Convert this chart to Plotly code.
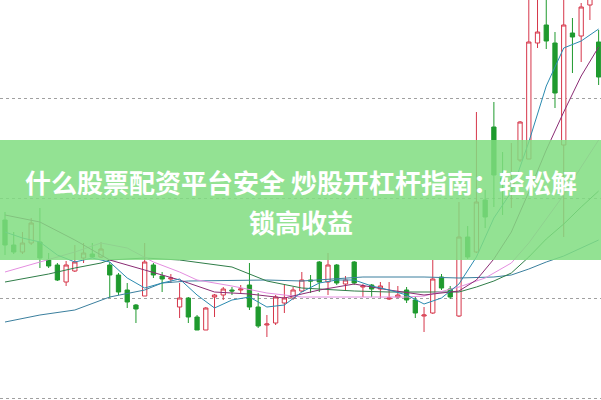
import plotly.graph_objects as go

# ---- candle data (index, open, close, high, low) ----
idx = list(range(69))
opens = [9.80, 9.55, 9.48, 9.57, 9.58, 9.40, 9.35, 9.18, 9.29, 9.42,
         9.46, 9.43, 9.35, 9.25, 9.10, 8.95, 9.04, 9.35, 9.24, 9.21,
         8.93, 9.02, 8.83, 8.70, 9.03, 9.05, 9.10, 9.10, 9.15, 8.93,
         8.75, 8.77, 8.97, 9.02, 9.09, 9.20, 9.38, 9.18, 9.35, 9.16,
         9.38, 9.13, 9.15, 9.11, 9.01, 9.03, 9.10, 9.00, 8.84, 8.87,
         9.23, 9.11, 8.84, 9.63, 9.48, 10.00, 10.73, 10.22, 10.15, 10.40,
         10.41, 11.57, 11.75, 11.57, 10.55, 11.67, 11.64, 11.95, 11.58]
closes = [9.55, 9.48, 9.57, 9.77, 9.42, 9.34, 9.20, 9.35, 9.38, 9.47,
          9.43, 9.51, 9.25, 9.08, 8.98, 8.91, 9.38, 9.25, 9.21, 9.22,
          9.02, 8.83, 8.70, 8.92, 9.05, 9.11, 9.09, 9.11, 8.93, 8.74,
          8.76, 9.03, 9.02, 9.10, 9.20, 9.19, 9.18, 9.35, 9.17, 9.20,
          9.17, 9.14, 9.11, 9.14, 9.02, 9.05, 9.00, 8.87, 8.85, 9.21,
          9.12, 9.03, 9.63, 9.43, 9.98, 9.83, 10.25, 10.18, 10.17, 10.78,
          11.58, 11.68, 11.59, 11.07, 11.75, 11.63, 11.93, 12.02, 11.23]
highs = [9.88, 9.68, 9.68, 9.82, 9.92, 9.47, 9.37, 9.39, 9.55, 9.57,
         9.57, 9.58, 9.38, 9.27, 9.17, 8.96, 9.57, 9.37, 9.28, 9.26,
         9.17, 9.03, 8.85, 8.93, 9.06, 9.13, 9.13, 9.15, 9.37, 9.07,
         8.85, 9.05, 9.15, 9.13, 9.28, 9.25, 9.39, 9.47, 9.36, 9.24,
         9.39, 9.16, 9.16, 9.18, 9.18, 9.14, 9.13, 9.03, 8.93, 9.40,
         9.26, 9.14, 9.98, 9.74, 10.88, 10.10, 10.98, 10.48, 10.57, 10.79,
         12.05, 12.05, 12.05, 11.68, 12.05, 11.82, 11.97, 12.10, 11.70]
lows = [9.45, 9.46, 9.46, 9.55, 9.32, 9.32, 9.19, 9.14, 9.28, 9.37,
        9.42, 9.42, 9.02, 9.05, 8.92, 8.77, 9.04, 9.22, 9.08, 9.17,
        8.82, 8.77, 8.70, 8.70, 8.83, 9.00, 9.05, 9.07, 8.90, 8.72,
        8.63, 8.75, 8.87, 9.00, 9.08, 9.07, 9.08, 9.05, 9.15, 9.10,
        9.15, 9.03, 9.03, 9.02, 9.00, 9.02, 8.97, 8.82, 8.68, 8.86,
        9.10, 9.01, 8.83, 9.41, 9.47, 9.72, 9.93, 9.85, 9.92, 10.38,
        10.41, 11.52, 11.51, 10.92, 9.63, 11.27, 11.38, 11.80, 11.15]

# ---- moving-average lines ----
ma5_x = list(range(0, 69, 2))
ma5_y = [9.68, 9.62, 9.58, 9.45, 9.38, 9.42, 9.38, 9.22, 9.12, 9.17,
         9.21, 9.05, 8.92, 9.00, 9.03, 8.93, 8.95, 9.08, 9.17, 9.20,
         9.20, 9.14, 9.10, 9.05, 8.96, 9.02, 9.16, 9.43, 9.82, 10.08,
         10.58, 11.14, 11.52, 11.59, 11.71]
ma10_x = [0, 4, 8, 12, 16, 20, 24, 28, 32, 36, 40, 44, 48, 52, 54, 56, 58, 60, 62, 64, 66, 68]
ma10_y = [9.85, 9.78, 9.60, 9.40, 9.30, 9.20, 9.08, 9.06, 9.02, 9.10, 9.16,
          9.10, 9.05, 9.09, 9.20, 9.41, 9.68, 10.08, 10.50, 10.88, 11.24, 11.53]
ma20_x = [0, 2, 4, 8, 11, 14, 17, 20, 22, 26, 30, 34, 40, 46, 48, 52, 55, 58,
          60, 62, 64, 66, 68]
ma20_y = [9.28, 9.33, 9.38, 9.48, 9.57, 9.52, 9.38, 9.28, 9.20, 9.14, 9.07,
          9.03, 9.03, 9.03, 9.04, 9.13, 9.22, 9.37, 9.57, 9.81, 10.05, 10.33, 10.60]
ma30_x = [0, 3, 5, 8, 11, 12, 16, 20, 26, 30, 34, 40, 44, 48, 50, 52, 54, 56,
          58, 60, 62, 64, 66, 68]
ma30_y = [9.18, 9.23, 9.26, 9.32, 9.37, 9.40, 9.42, 9.40, 9.33, 9.19, 9.12,
          9.09, 9.08, 9.08, 9.08, 9.08, 9.13, 9.19, 9.27, 9.43, 9.61, 9.76, 9.93, 10.09]
ma60_x = [0, 4, 8, 11, 12, 16, 18, 21, 30, 34, 41, 48, 52, 56, 58, 60, 62, 64, 66, 68]
ma60_y = [8.78, 8.85, 8.90, 9.00, 9.03, 9.10, 9.17, 9.19, 9.20, 9.19, 9.23,
          9.23, 9.22, 9.23, 9.25, 9.31, 9.38, 9.44, 9.52, 9.60]

title_line1 = "什么股票配资平台安全 炒股开杠杆指南：轻松解"
title_line2 = "锁高收益"

fig = go.Figure()

lines = [
    (ma60_x, ma60_y, "#3b7f9e"),
    (ma30_x, ma30_y, "#2f7d48"),
    (ma20_x, ma20_y, "#e48ee0"),
    (ma10_x, ma10_y, "#8b2c74"),
    (ma5_x, ma5_y, "#2b8bb0"),
]
for xs, ys, col in lines:
    fig.add_trace(go.Scatter(x=xs, y=ys, mode="lines",
                             line=dict(color=col, width=1), hoverinfo="skip",
                             showlegend=False))

fig.add_trace(go.Candlestick(
    x=idx, open=opens, close=closes, high=highs, low=lows,
    increasing=dict(line=dict(color="#d6364a", width=1), fillcolor="#ffffff"),
    decreasing=dict(line=dict(color="#1f9a2e", width=1), fillcolor="#1f9a2e"),
    whiskerwidth=0, showlegend=False,
))

fig.update_layout(
    width=601, height=400,
    margin=dict(l=0, r=0, t=0, b=0),
    paper_bgcolor="white", plot_bgcolor="white",
    showlegend=False,
    xaxis=dict(range=[-0.573, 68.27], visible=False, rangeslider=dict(visible=False)),
    yaxis=dict(range=[8.0, 12.0], showticklabels=False, showline=False, zeroline=False,
               showgrid=True, gridcolor="#a0a0a0", griddash="dot", gridwidth=1,
               tick0=0.02, dtick=1),
    shapes=[dict(type="rect", xref="paper", yref="paper", x0=0, x1=1,
                 y0=1 - 260 / 400, y1=1 - 140 / 400,
                 fillcolor="rgb(128,221,128)", opacity=0.85, line=dict(width=0),
                 layer="above")],
    annotations=[
        dict(text=title_line1, xref="paper", yref="paper", x=0.5, y=1 - 181 / 400,
             xanchor="center", yanchor="middle", showarrow=False,
             font=dict(family="Noto Sans CJK SC", size=26, color="white", weight="bold")),
        dict(text=title_line2, xref="paper", yref="paper", x=0.5, y=1 - 221 / 400,
             xanchor="center", yanchor="middle", showarrow=False,
             font=dict(family="Noto Sans CJK SC", size=26, color="white", weight="bold")),
    ],
)

fig.write_html("out.html", config={"displayModeBar": False},
               post_script="document.body.style.margin='0';document.body.style.overflow='hidden';")
